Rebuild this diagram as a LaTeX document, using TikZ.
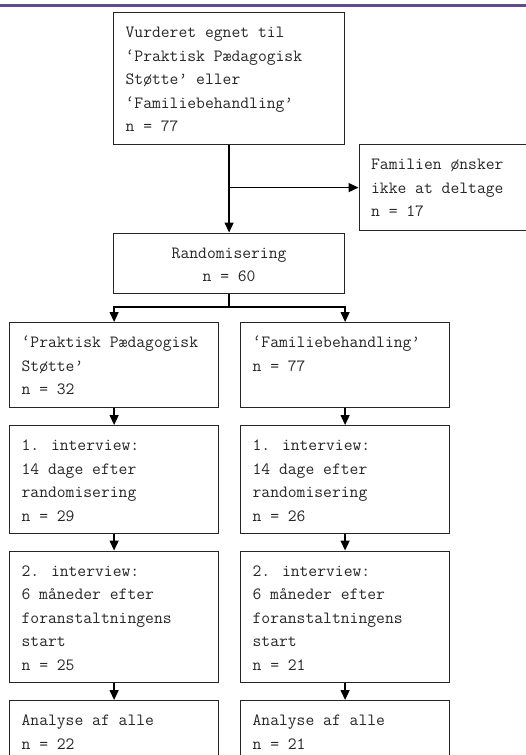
\documentclass[tikz,border=0pt]{standalone}
\usepackage{fontspec}
\usetikzlibrary{arrows.meta,calc}
\definecolor{barpurple}{RGB}{94,76,140}
\newcommand\boxtext[3]{\parbox[c][#2][t]{#1}{\raggedright\rule{0pt}{25pt}#3}}
\newcommand\boxtextc[3]{\parbox[c][#2][t]{#1}{\centering\rule{0pt}{25pt}#3}}
\begin{document}
\begin{tikzpicture}[x=1pt,y=1pt,
  box/.style={draw=black!85, line width=1.2pt, inner xsep=12pt, inner ysep=0pt, anchor=north west, font=\ttfamily\fontsize{17.14}{23.5}\selectfont, text=black!85},
  arr/.style={draw=black, line width=1.4pt, -{Triangle[length=10pt,width=9pt]}},
  ln/.style={draw=black, line width=1.4pt}]
\clip (0,0) rectangle (526,-755);
\fill[barpurple] (0,-4) rectangle (526,-7);
\node[box] (top) at (113,-12) {\boxtext{207pt}{132pt}{Vurderet egnet til\\‘Praktisk Pædagogisk\\Støtte’ eller\\‘Familiebehandling’\\n = 77}};
\node[box] (fam) at (358.5,-144) {\boxtext{157.5pt}{86pt}{Familien ønsker\\ikke at deltage\\n = 17}};
\node[box] (rand) at (113,-232.5) {\boxtextc{207pt}{60.5pt}{Randomisering\\n = 60}};
\node[box] (pps) at (9,-322) {\boxtext{185pt}{85pt}{‘Praktisk Pædagogisk\\Støtte’\\n = 32}};
\node[box] (fb) at (240,-322) {\boxtext{185pt}{85pt}{‘Familiebehandling’\\n = 77}};
\node[box] (ia) at (9,-425) {\boxtext{185pt}{107.5pt}{1. interview:\\14 dage efter\\randomisering\\n = 29}};
\node[box] (ib) at (240,-425) {\boxtext{185pt}{107.5pt}{1. interview:\\14 dage efter\\randomisering\\n = 26}};
\node[box] (iia) at (9,-550.5) {\boxtext{185pt}{131.5pt}{2. interview:\\6 måneder efter\\foranstaltningens\\start\\n = 25}};
\node[box] (iib) at (240,-550.5) {\boxtext{185pt}{131.5pt}{2. interview:\\6 måneder efter\\foranstaltningens\\start\\n = 21}};
\node[box] (aa) at (9,-700) {\boxtext{185pt}{75pt}{Analyse af alle\\n = 22}};
\node[box] (ab) at (240,-700) {\boxtext{185pt}{75pt}{Analyse af alle\\n = 21}};
\draw[arr] (top.south) -- (rand.north);
\draw[arr] (top.south |- fam.west) -- (fam.west);
\draw[ln] (rand.south) -- ++(0,-12.7) coordinate (split);
\draw[arr] (split) -| (pps.north);
\draw[arr] (split) -| (fb.north);
\draw[arr] (pps.south) -- (ia.north);
\draw[arr] (fb.south) -- (ib.north);
\draw[arr] (ia.south) -- (iia.north);
\draw[arr] (ib.south) -- (iib.north);
\draw[arr] (iia.south) -- (aa.north);
\draw[arr] (iib.south) -- (ab.north);
\end{tikzpicture}
\end{document}
